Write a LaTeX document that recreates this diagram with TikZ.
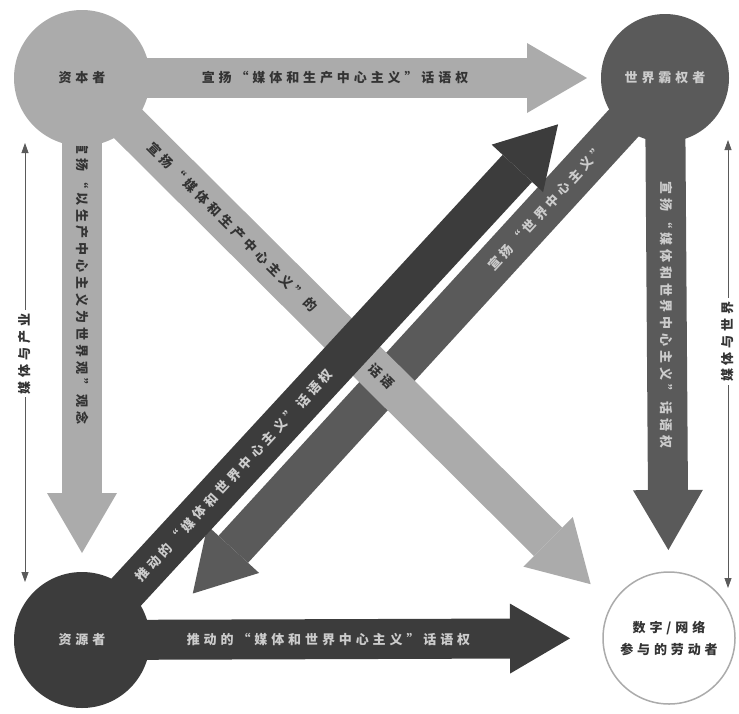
\documentclass[tikz,border=0pt]{standalone}
\usepackage{fontspec}
\newfontfamily\cjk[LetterSpace=30]{Noto Sans CJK SC}
\usetikzlibrary{arrows.meta, backgrounds}
\definecolor{lightg}{HTML}{ABABAB}
\definecolor{midg}{HTML}{5A5A5A}
\definecolor{darkg}{HTML}{3C3C3C}
\definecolor{inkdark}{HTML}{333333}
\definecolor{inklight}{HTML}{CCCCCC}
\tikzset{
  actor/.style={circle, minimum size=136pt, inner sep=0pt, align=center, font=\cjk\bfseries\fontsize{13}{22}\selectfont},
  bar/.style={line width=40pt, -{Triangle[width=70pt,length=60pt,line width=0pt]}},
  tag/.style={font=\cjk\bfseries\fontsize{13}{15}\selectfont, inner sep=0pt},
  dim/.style={draw=midg, line width=0.8pt, {Triangle[width=7pt,length=10pt]}-{Triangle[width=7pt,length=10pt]}}
}
\begin{document}
\begin{tikzpicture}[x=1pt,y=-1pt]
\useasboundingbox (0,0) rectangle (739,713);

% Los cuatro actores
\node[actor, fill=lightg, text=inkdark] (capital) at (82,78) {资本者};
\node[actor, fill=midg, minimum size=128pt, text=inklight] (world) at (665,78) {世界霸权者};
\node[actor, fill=darkg, text=inklight] (resource) at (82,640) {资源者};
\node[actor, fill=white, draw=lightg, line width=1.5pt, minimum size=132pt, text=inkdark] (worker) at (669,638) {数字/网络\\参与的劳动者};

% Flechas gruesas (debajo de los circulos)
\begin{scope}[on background layer]
  % diagonal media: mundo -> recursos
  \draw[bar, midg, shorten >=63pt] (world.center) -- (resource.east)
    node[tag, sloped, pos=0.23, text=inklight] (tagwr) {宣扬“世界中心主义”};
  % diagonal clara: capital -> trabajador
  \draw[bar, lightg, shorten >=29pt] (capital.center) -- (worker.150)
    node[tag, sloped, pos=0.284, text=inkdark] (tagcw) {宣扬“媒体和生产中心主义”的}
    node[tag, sloped, pos=0.566, text=inkdark] (tagcw2) {话语};
  % diagonal oscura: recursos -> mundo
  \draw[bar, darkg, shorten >=63pt] (resource.center) -- (world.west)
    node[tag, sloped, pos=0.293, text=inklight] (tagrw) {推动的“媒体和世界中心主义”话语权};

  % lados del cuadro
  \draw[bar, lightg, shorten >=78pt] (capital.center) -- (world.center)
    node[tag, pos=0.434, text=inkdark] (tagcap) {宣扬“媒体和生产中心主义”话语权};
  \draw[bar, lightg, shorten >=87pt] (capital.center) -- (resource.center)
    node[tag, rotate=-90, pos=0.365, text=inkdark] (tagleft) {宣扬“以生产中心主义为世界观”观念};
  \draw[bar, midg, shorten >=88pt] (world.center) -- (worker.center)
    node[tag, rotate=-90, pos=0.423, text=inklight] (tagright) {宣扬“媒体和世界中心主义”话语权};
  \draw[bar, darkg, shorten >=99pt] (resource.center) -- (worker.center)
    node[tag, pos=0.42, text=inklight] (tagbot) {推动的“媒体和世界中心主义”话语权};
\end{scope}

% Cotas laterales
\coordinate (lt) at (25,143);
\coordinate (lb) at (25,582);
\coordinate (rt) at (728,140);
\coordinate (rb) at (728,588);
\draw[dim] (lt) -- (lb)
  node[tag, inner sep=3pt, fill=white, rotate=90, pos=0.48, text=inkdark] (dimleft) {媒体与产业};
\draw[dim] (rt) -- (rb)
  node[tag, inner sep=3pt, fill=white, rotate=90, pos=0.45, text=inkdark] (dimright) {媒体与世界};

\end{tikzpicture}
\end{document}
